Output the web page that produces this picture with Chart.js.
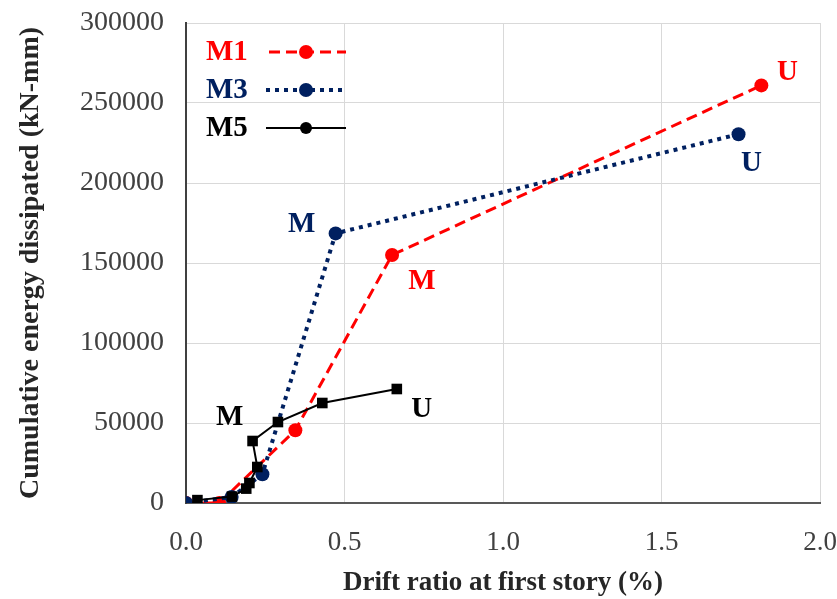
<!DOCTYPE html>
<html>
<head>
<meta charset="utf-8">
<script src="https://cdn.jsdelivr.net/npm/chart.js@4.4.1/dist/chart.umd.min.js"></script>
<style>
  html, body { margin: 0; padding: 0; background: #fff; }
  #wrap { width: 837px; height: 599px; }
</style>
</head>
<body>
<div id="wrap"><canvas id="chart" width="837" height="599"></canvas></div>
<script>
// Data
const m1Drift = [0.0, 0.105, 0.345, 0.65, 1.815];
const m1Energy = [0, 0, 45500, 155000, 261000];

const m3Drift = [0.0, 0.144, 0.241, 0.472, 1.743];
const m3Energy = [0, 3750, 18000, 168500, 230500];

const m5Drift = [0.036, 0.145, 0.19, 0.20, 0.225, 0.21, 0.29, 0.43, 0.665];
const m5Energy = [1800, 4000, 9000, 12500, 22500, 38750, 50600, 62500, 71250];

const xTicks = [0.0, 0.5, 1.0, 1.5, 2.0];
const yTicks = [0, 50000, 100000, 150000, 200000, 250000, 300000];

// Stage labels: [series index, point index, text, dx, dy]
const stageLabels = [
    [0, 3, 'M', 30, 27],
    [0, 4, 'U', 26, -13],
    [1, 3, 'M', -34, -9],
    [1, 4, 'U', 13, 29],
    [2, 5, 'M', -23, -23],
    [2, 8, 'U', 25, 21]
];

const seriesNames = ['M1', 'M3', 'M5'];
const RED = '#ff0000';
const NAVY = '#002060';
const BLACK = '#000000';
const SERIF = '"Liberation Serif", "Times New Roman", serif';

function toPoints(xs, ys) {
    return xs.map((x, i) => ({ x: x, y: ys[i] }));
}

// Draw the in-plot legend and the M / U annotations
const annotations = {
    id: 'annotations',
    afterDatasetsDraw(chart) {
        const ctx = chart.ctx;
        ctx.save();
        ctx.font = 'bold 29px ' + SERIF;
        ctx.textBaseline = 'middle';
        ctx.textAlign = 'center';

        stageLabels.forEach(([ds, idx, text, dx, dy]) => {
            const el = chart.getDatasetMeta(ds).data[idx];
            ctx.fillStyle = chart.data.datasets[ds].borderColor;
            ctx.fillText(text, el.x + dx, el.y + dy);
        });

        // Legend rows
        const rows = [52, 90, 128];
        chart.data.datasets.forEach((d, i) => {
            const y = rows[i];
            ctx.fillStyle = d.borderColor;
            ctx.textAlign = 'left';
            ctx.fillText(seriesNames[i], 206, y + 1);

            ctx.strokeStyle = d.borderColor;
            ctx.lineWidth = d.borderWidth;
            ctx.setLineDash(d.borderDash || []);
            ctx.beginPath();
            ctx.moveTo(i === 0 ? 269 : 266, y);
            ctx.lineTo(346, y);
            ctx.stroke();
            ctx.setLineDash([]);

            ctx.fillStyle = d.borderColor;
            ctx.beginPath();
            ctx.arc(306, y, i === 2 ? 6 : 7, 0, Math.PI * 2);
            ctx.fill();
        });
        ctx.restore();
    }
};

const ctx = document.getElementById('chart').getContext('2d');

new Chart(ctx, {
    type: 'scatter',
    data: {
        datasets: [
            {
                label: 'M1',
                data: toPoints(m1Drift, m1Energy),
                showLine: true,
                borderColor: RED,
                backgroundColor: RED,
                borderWidth: 3,
                borderDash: [11, 6],
                pointStyle: 'circle',
                pointRadius: 7,
                pointBorderWidth: 0,
                order: 3
            },
            {
                label: 'M3',
                data: toPoints(m3Drift, m3Energy),
                showLine: true,
                borderColor: NAVY,
                backgroundColor: NAVY,
                borderWidth: 4,
                borderDash: [4, 5],
                pointStyle: 'circle',
                pointRadius: 7,
                pointBorderWidth: 0,
                order: 2
            },
            {
                label: 'M5',
                data: toPoints(m5Drift, m5Energy),
                showLine: true,
                borderColor: BLACK,
                backgroundColor: BLACK,
                borderWidth: 2,
                pointStyle: 'rect',
                pointRadius: 7.5,
                pointBorderWidth: 0,
                order: 1
            }
        ]
    },
    options: {
        responsive: false,
        animation: false,
        layout: {
            padding: { top: 0, right: 0, left: 14, bottom: 0 }
        },
        plugins: {
            legend: { display: false },
            tooltip: { enabled: false }
        },
        scales: {
            x: {
                type: 'linear',
                min: 0,
                max: 2,
                afterBuildTicks: (axis) => {
                    axis.ticks = xTicks.map(v => ({ value: v }));
                },
                afterFit: (axis) => {
                    axis.height = 96;
                    axis.paddingLeft = 0;
                    axis.paddingRight = 17;
                },
                grid: {
                    color: '#d9d9d9',
                    lineWidth: 1,
                    drawTicks: false
                },
                border: { color: '#595959', width: 2 },
                ticks: {
                    color: '#404040',
                    padding: 24,
                    font: { family: SERIF, size: 27 },
                    callback: (v) => v.toFixed(1)
                },
                title: {
                    display: true,
                    text: 'Drift ratio at first story (%)',
                    color: '#262626',
                    padding: { top: 14, bottom: 0 },
                    font: { family: SERIF, size: 27, weight: 'bold' }
                }
            },
            y: {
                type: 'linear',
                min: 0,
                max: 300000,
                afterBuildTicks: (axis) => {
                    axis.ticks = yTicks.map(v => ({ value: v }));
                },
                afterFit: (axis) => {
                    axis.width = 172;
                    axis.paddingTop = 23;
                    axis.paddingBottom = 0;
                },
                grid: {
                    color: '#d9d9d9',
                    lineWidth: 1,
                    drawTicks: false
                },
                border: { color: '#404040', width: 2 },
                ticks: {
                    color: '#404040',
                    padding: 22,
                    font: { family: SERIF, size: 28 },
                    callback: (v) => String(v)
                },
                title: {
                    display: true,
                    text: 'Cumulative energy dissipated (kN-mm)',
                    color: '#262626',
                    padding: { top: 0, bottom: 4 },
                    font: { family: SERIF, size: 28, weight: 'bold' }
                }
            }
        }
    },
    plugins: [annotations]
});
</script>
</body>
</html>
